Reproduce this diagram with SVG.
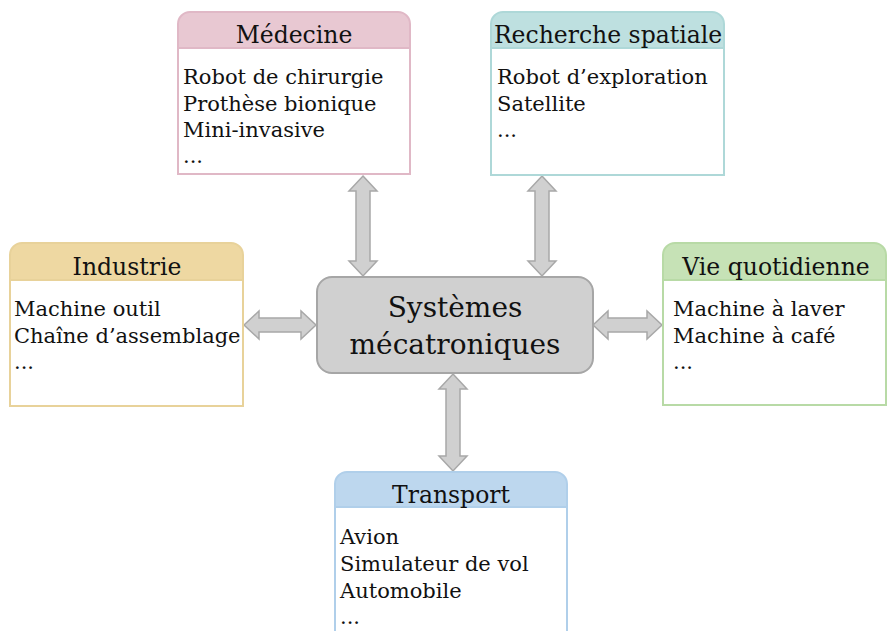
<svg xmlns="http://www.w3.org/2000/svg" width="887" height="631" viewBox="0 0 887 631">
<style>
.t{font-family:"DejaVu Serif","Liberation Serif",serif;fill:#111;}
.h{font-size:23.5px;text-anchor:middle;}
.b{font-size:21px;}
.c{font-size:28px;text-anchor:middle;}
.arr{fill:#D0D0D0;stroke:#A8A8A8;stroke-width:1.5;stroke-linejoin:miter;}
.body{fill:#fff;stroke-width:2;}
</style>
<rect width="887" height="631" fill="#fff"/>
<g id="connectors">
<polygon class="arr" points="363,176 377,191 370,191 370,261 377,261 363,276 349,261 356,261 356,191 349,191"/>
<polygon class="arr" points="542,176 556,191 549,191 549,261 556,261 542,276 528,261 535,261 535,191 528,191"/>
<polygon class="arr" points="453,374 467,389 460,389 460,456 467,456 453,471 439,456 446,456 446,389 439,389"/>
<polygon class="arr" points="244,325 259,311 259,318 301,318 301,311 316,325 301,339 301,332 259,332 259,339"/>
<polygon class="arr" points="593,325 608,311 608,318 647,318 647,311 662,325 647,339 647,332 608,332 608,339"/>
</g>
<g id="center">
<rect x="317" y="277" width="276" height="96" rx="15" fill="#D0D0D0" stroke="#A6A6A6" stroke-width="2"/>
<text class="t c" x="455" y="317">Systèmes</text>
<text class="t c" x="455" y="354">mécatroniques</text>
</g>
<g id="medecine">
<path d="M178,48 V24 a12,12 0 0 1 12,-12 H398 a12,12 0 0 1 12,12 V48 Z" fill="#E8C8D2" stroke="#E0B8C6" stroke-width="2"/>
<rect class="body" x="178" y="48" width="232" height="126" stroke="#E0B8C6"/>
<text class="t h" x="294" y="43">Médecine</text>
<text class="t b" x="183" y="84">Robot de chirurgie</text>
<text class="t b" x="183" y="111">Prothèse bionique</text>
<text class="t b" x="183" y="137">Mini-invasive</text>
<text class="t b" x="183" y="163">...</text>
</g>
<g id="recherche">
<path d="M491,48 V24 a12,12 0 0 1 12,-12 H712 a12,12 0 0 1 12,12 V48 Z" fill="#BEE0E0" stroke="#AED8D8" stroke-width="2"/>
<rect class="body" x="491" y="48" width="233" height="127" stroke="#AED8D8"/>
<text class="t h" x="608" y="43">Recherche spatiale</text>
<text class="t b" x="497" y="84">Robot d’exploration</text>
<text class="t b" x="497" y="111">Satellite</text>
<text class="t b" x="497" y="137">...</text>
</g>
<g id="industrie">
<path d="M10,280 V255 a12,12 0 0 1 12,-12 H231 a12,12 0 0 1 12,12 V280 Z" fill="#EED8A2" stroke="#E8D29A" stroke-width="2"/>
<rect class="body" x="10" y="280" width="233" height="126" stroke="#E8D29A"/>
<text class="t h" x="127" y="275">Industrie</text>
<text class="t b" x="14" y="316">Machine outil</text>
<text class="t b" x="14" y="343">Chaîne d’assemblage</text>
<text class="t b" x="14" y="369">...</text>
</g>
<g id="vie">
<path d="M663,280 V255 a12,12 0 0 1 12,-12 H874 a12,12 0 0 1 12,12 V280 Z" fill="#C6E2B6" stroke="#B8DAA6" stroke-width="2"/>
<rect class="body" x="663" y="280" width="223" height="125" stroke="#B8DAA6"/>
<text class="t h" x="776" y="275">Vie quotidienne</text>
<text class="t b" x="673" y="316">Machine à laver</text>
<text class="t b" x="673" y="343">Machine à café</text>
<text class="t b" x="673" y="369">...</text>
</g>
<g id="transport">
<path d="M335,507 V484 a12,12 0 0 1 12,-12 H555 a12,12 0 0 1 12,12 V507 Z" fill="#BDD7EE" stroke="#B0CFEA" stroke-width="2"/>
<rect class="body" x="335" y="507" width="232" height="130" stroke="#B0CFEA"/>
<text class="t h" x="451" y="503">Transport</text>
<text class="t b" x="340" y="544">Avion</text>
<text class="t b" x="340" y="571">Simulateur de vol</text>
<text class="t b" x="340" y="598">Automobile</text>
<text class="t b" x="340" y="624">...</text>
</g>
</svg>
